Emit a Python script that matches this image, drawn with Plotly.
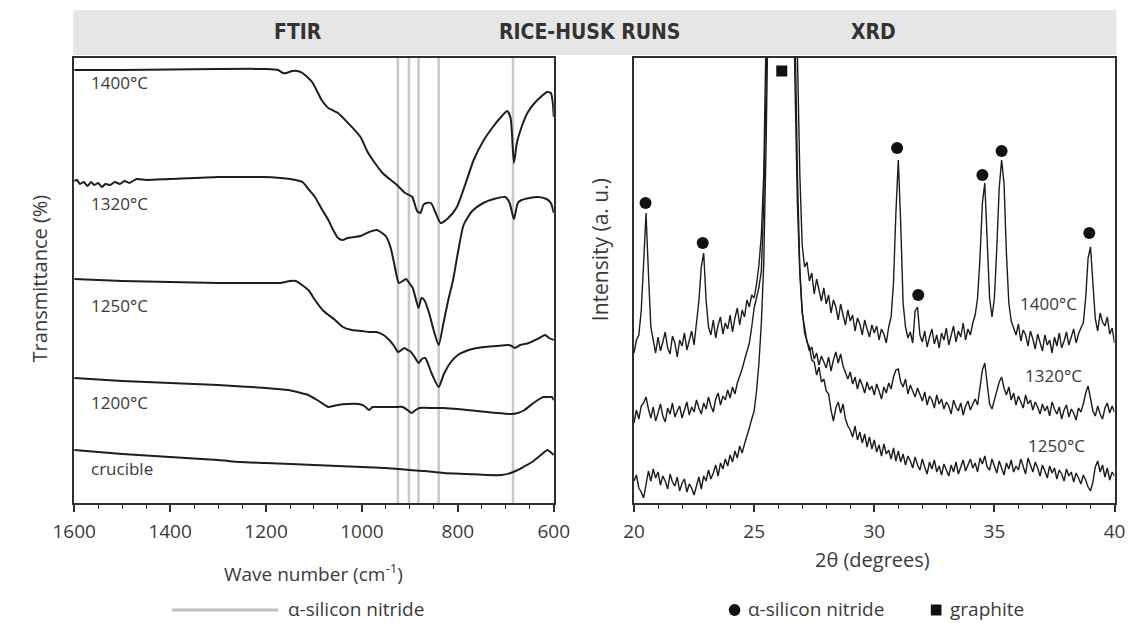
import plotly.graph_objects as go

W, H = 1146, 623

# ---------------- FTIR data (wave number, transmittance in arbitrary offset units) ----------------
ftir_1400_wn = [1600, 1500, 1400, 1300, 1200, 1175, 1165, 1158, 1145, 1135, 1124, 1104, 1084, 1070, 1050,
                1029, 1003, 987, 957, 927, 910, 902, 895, 885, 878, 872, 866, 856, 848, 836, 820, 802, 785,
                767, 747, 727, 710, 697, 690, 683, 677, 667, 655, 640, 625, 614, 606, 602, 600]
ftir_1400_t = [433, 433, 433.5, 434, 434, 433, 430, 430, 432, 432, 430, 421, 403, 395, 390,
               380, 366, 350, 330, 318, 310, 308, 306, 292, 290, 298, 300, 300, 292, 280, 285, 296, 318,
               343, 362, 376, 386, 392, 385, 340, 360, 376, 390, 400, 407, 411, 410, 400, 386]

ftir_1320_wn = [1600, 1594, 1588, 1580, 1572, 1565, 1558, 1550, 1542, 1535, 1525, 1515, 1505, 1495, 1485,
                1470, 1450, 1400, 1300, 1250, 1205, 1170, 1150, 1138, 1124, 1110, 1098, 1084, 1070, 1060,
                1050, 1040, 1030, 1015, 1003, 985, 969, 958, 949, 940, 933, 923, 915, 908, 900, 894, 882,
                876, 870, 860, 850, 840, 830, 820, 810, 800, 788, 770, 747, 725, 701, 692, 683, 675, 667,
                650, 634, 615, 606, 600]
ftir_1320_t = [322, 323, 319, 321, 317, 321, 318, 320, 316, 319, 318, 321, 319, 322, 320,
               324, 323, 324, 326, 326, 326, 325, 324, 323, 321, 313, 306, 294, 283, 273,
               265, 263, 265, 266, 267, 271, 273, 270, 266, 255, 240, 220, 222, 224, 219, 215, 195,
               205, 203, 190, 172, 158, 180, 203, 223, 250, 278, 292, 300, 304, 306, 300, 284, 300, 303,
               305, 306, 304, 300, 290]

ftir_1250_wn = [1600, 1500, 1400, 1300, 1200, 1171, 1150, 1138, 1125, 1110, 1098, 1080, 1056, 1040, 1021,
                1000, 985, 970, 955, 943, 933, 925, 918, 911, 905, 900, 890, 882, 875, 868, 855, 840, 830,
                816, 800, 788, 770, 745, 720, 695, 688, 681, 670, 652, 630, 618, 610, 600]
ftir_1250_t = [224, 222, 221, 220, 220, 220, 222, 222, 218, 212, 203, 192, 183, 176, 173,
               172, 171, 171, 168, 163, 157, 151, 153, 155, 153, 152, 146, 140, 144, 145, 130, 116, 128,
               140, 148, 151, 154, 156, 157, 158, 157, 155, 158, 160, 165, 168, 165, 163]

ftir_1200_wn = [1600, 1500, 1400, 1300, 1200, 1154, 1135, 1112, 1090, 1070, 1060, 1050, 1030, 1007, 995,
                985, 978, 971, 950, 930, 915, 905, 896, 888, 880, 850, 830, 800, 760, 720, 689, 675, 661,
                645, 630, 622, 612, 604, 600]
ftir_1200_t = [125, 122, 120, 118, 115, 113, 111, 108, 102, 96, 97, 98, 99, 99, 97,
               93, 96, 96, 96, 96, 96, 93, 90, 93, 95, 95, 95, 94, 92, 90, 89, 90, 93,
               99, 104, 106, 106, 106, 103]

ftir_crucible_wn = [1600, 1500, 1400, 1300, 1255, 1200, 1100, 1000, 950, 900, 870, 830, 780, 740, 709, 690,
                    675, 660, 645, 632, 622, 614, 607, 600]
ftir_crucible_t = [53, 49, 46, 43, 41, 40, 38, 36, 35, 33, 32, 30, 29, 28, 28, 30,
                   33, 37, 41, 46, 50, 53, 51, 48]

ftir_series = [
    ("1400°C", ftir_1400_wn, ftir_1400_t),
    ("1320°C", ftir_1320_wn, ftir_1320_t),
    ("1250°C", ftir_1250_wn, ftir_1250_t),
    ("1200°C", ftir_1200_wn, ftir_1200_t),
    ("crucible", ftir_crucible_wn, ftir_crucible_t),
]
si3n4_ftir_bands = [925, 902, 882, 840, 685]
ftir_ticks = [1600, 1400, 1200, 1000, 800, 600]

# ---------------- XRD data (2theta scan grid 20.0..40.0 step 0.1, intensity a.u.) ----------------
two_theta = [round(20 + 0.1 * i, 1) for i in range(201)]
xrd_1400 = [
    150, 163, 168, 192, 240, 290, 230, 176, 163, 150,
    166, 152, 161, 171, 155, 149, 167, 160, 146, 163,
    157, 170, 153, 164, 172, 158, 178, 202, 236, 250,
    203, 176, 168, 183, 165, 178, 186, 169, 180, 174,
    188, 171, 185, 195, 178, 193, 186, 203, 196, 208,
    205, 219, 238, 268, 330, 430, 600, 820, 1050, 1250,
    1400, 1480, 1480, 1400, 1250, 1050, 820, 620, 450, 330,
    258, 236, 241, 222, 230, 209, 224, 213, 202, 215,
    199, 208, 190, 203, 196, 183, 199, 188, 178, 193,
    182, 188, 172, 185, 179, 168, 183, 174, 166, 178,
    170, 177, 163, 174, 169, 160, 176, 186, 220, 290,
    343, 280, 200, 176, 165, 171, 160, 192, 196, 168,
    161, 172, 156, 166, 174, 159, 168, 155, 170, 163,
    175, 158, 169, 177, 161, 172, 166, 180, 163, 174,
    168, 180, 188, 205, 245, 300, 320, 270, 205, 186,
    205, 255, 315, 343, 320, 250, 200, 182, 176, 168,
    179, 162, 173, 168, 157, 172, 164, 154, 169, 161,
    152, 168, 158, 163, 150, 166, 157, 170, 155, 162,
    171, 158, 167, 174, 160, 169, 175, 180, 205, 245,
    256, 215, 184, 172, 190, 181, 177, 186, 169, 175,
    160]
xrd_1320 = [
    80, 93, 84, 97, 100, 106, 94, 85, 96, 82,
    90, 99, 87, 81, 95, 89, 100, 86, 92, 97,
    85, 94, 101, 88, 96, 91, 103, 95, 89, 100,
    94, 106, 97, 91, 104, 110, 98, 107, 103, 113,
    105, 116, 109, 120, 126, 134, 143, 151, 160, 176,
    195, 205, 216, 232, 300, 420, 600, 800, 1000, 1200,
    1350, 1400, 1350, 1200, 1000, 800, 620, 480, 330, 235,
    192, 170, 162, 152, 156, 144, 150, 138, 147, 141,
    135, 146, 132, 143, 151, 140, 149, 137, 130, 124,
    131, 119, 126, 114, 124, 118, 110, 121, 113, 117,
    108, 119, 112, 104, 116, 110, 120, 114, 126, 133,
    134, 121, 116, 124, 109, 118, 112, 106, 115, 109,
    102, 111, 98, 107, 103, 95, 108, 99, 104, 94,
    101, 97, 89, 103, 96, 92, 100, 88, 97, 102,
    93, 99, 104, 98, 116, 133, 140, 117, 99, 94,
    103, 111, 121, 126, 115, 108, 116, 103, 110, 98,
    107, 101, 95, 108, 99, 103, 93, 101, 96, 89,
    99, 92, 97, 87, 101, 94, 89, 96, 84, 93,
    98, 86, 94, 90, 83, 95, 91, 99, 110, 117,
    103, 92, 87, 97, 89, 84, 95, 100, 90, 97,
    91]
xrd_1250 = [
    22, 28, 15, 11, 5, 20, 32, 22, 34, 25,
    31, 18, 27, 22, 14, 29, 21, 17, 26, 12,
    20, 24, 11, 19, 15, 8, 17, 26, 14, 27,
    22, 33, 24, 30, 38, 27, 40, 34, 44, 37,
    48, 41, 52, 45, 57, 50, 59, 66, 75, 84,
    92, 112, 140, 180, 240, 360, 520, 750, 950, 1150,
    1300, 1350, 1300, 1150, 950, 750, 560, 420, 300, 230,
    190, 176, 161, 156, 143, 141, 128, 136, 121, 124,
    112, 109, 93, 82, 95, 101, 90, 99, 84, 77,
    73, 66, 77, 63, 71, 60, 69, 56, 66, 54,
    63, 51, 58, 47, 59, 49, 53, 44, 55, 42,
    52, 41, 49, 38, 47, 42, 35, 46, 38, 33,
    44, 36, 29, 41, 34, 43, 31, 37, 28, 39,
    33, 27, 38, 31, 41, 29, 36, 43, 32, 38,
    44, 35, 40, 31, 45, 39, 47, 36, 33, 44,
    37, 30, 42, 36, 28, 40, 34, 43, 31, 37,
    33, 44, 36, 29, 45, 38, 31, 41, 35, 27,
    38, 32, 25, 37, 30, 35, 24, 33, 29, 22,
    34, 27, 31, 21, 30, 25, 19, 28, 23, 16,
    12, 21, 36, 42, 31, 38, 26, 35, 23, 31,
    27]
xrd_series = [("1400°C", xrd_1400), ("1320°C", xrd_1320), ("1250°C", xrd_1250)]

si3n4_xrd_peaks = [20.48, 22.86, 30.95, 31.83, 34.5, 35.3, 38.95]
si3n4_xrd_marks = [300, 260, 355, 208, 328, 352, 270]
graphite_peak = [26.15]
graphite_mark = [432]
xrd_ticks = [20, 25, 30, 35, 40]

# ---------------- helpers ----------------
def px(x):
    return x / W

def py(y):
    return 1 - y / H

TXT = "#3a3a3a"
FONT = "Open Sans, Lato, DejaVu Sans, sans-serif"
YMAX = 445

fig = go.Figure()

for b in si3n4_ftir_bands:
    fig.add_trace(go.Scatter(x=[b, b], y=[0, YMAX], mode="lines", xaxis="x", yaxis="y",
                             line=dict(color="#c8c8c8", width=2.5), hoverinfo="skip"))

for name, wn, t in ftir_series:
    fig.add_trace(go.Scatter(x=wn, y=t, mode="lines", name=name, xaxis="x", yaxis="y",
                             line=dict(color="#1e1e1e", width=2, shape="spline", smoothing=0.6)))

for name, yv in xrd_series:
    fig.add_trace(go.Scatter(x=two_theta, y=yv, mode="lines", name=name, xaxis="x2", yaxis="y2",
                             line=dict(color="#1c1c1c", width=1.4)))

fig.add_trace(go.Scatter(x=si3n4_xrd_peaks, y=si3n4_xrd_marks, mode="markers", xaxis="x2", yaxis="y2",
                         marker=dict(symbol="circle", size=12, color="#111111"), cliponaxis=False))
fig.add_trace(go.Scatter(x=graphite_peak, y=graphite_mark, mode="markers", xaxis="x2", yaxis="y2",
                         marker=dict(symbol="square", size=11, color="#111111")))

axis_common = dict(showline=True, mirror=True, linecolor="#2e2e2e", linewidth=2, showgrid=False,
                   zeroline=False)

fig.update_layout(
    width=W, height=H, margin=dict(l=0, r=0, t=0, b=0),
    paper_bgcolor="white", plot_bgcolor="white", showlegend=False,
    font=dict(family=FONT, color=TXT),
    xaxis=dict(domain=[px(54), px(550)], range=[1600, 600], anchor="y",
               tickvals=ftir_ticks, ticks="outside", ticklen=7, tickwidth=1.5, tickcolor="#2e2e2e",
               tickfont=dict(size=19, color=TXT), ticklabelstandoff=3,
               minor=dict(dtick=50, tick0=600, ticks="outside", ticklen=4, tickwidth=1.2,
                          tickcolor="#2e2e2e"),
               **axis_common),
    yaxis=dict(domain=[py(503), py(58)], range=[0, YMAX], anchor="x", showticklabels=False,
               ticks="", **axis_common),
    xaxis2=dict(domain=[px(633), px(1130)], range=[20, 40], anchor="y2",
                tickvals=xrd_ticks, ticks="outside", ticklen=7, tickwidth=1.5, tickcolor="#2e2e2e",
                tickfont=dict(size=19, color=TXT), ticklabelstandoff=3,
                minor=dict(dtick=1, tick0=20, ticks="outside", ticklen=4, tickwidth=1.2,
                           tickcolor="#2e2e2e"),
                **axis_common),
    yaxis2=dict(domain=[py(503), py(58)], range=[0, YMAX], anchor="x2", showticklabels=False,
                ticks="", **axis_common),
)

shapes = [
    dict(type="rect", xref="paper", yref="paper", x0=px(53), x1=px(1132), y0=py(55), y1=py(10),
         fillcolor="#e6e6e6", line=dict(width=0), layer="below"),
    # left legend line
    dict(type="line", xref="paper", yref="paper", x0=px(155), x1=px(265), y0=py(610), y1=py(610),
         line=dict(color="#c0c0c0", width=3)),
    # right legend symbols
    dict(type="circle", xref="paper", yref="paper", x0=px(731), x1=px(743), y0=py(616), y1=py(604),
         fillcolor="#111111", line=dict(width=0)),
    dict(type="rect", xref="paper", yref="paper", x0=px(940), x1=px(951), y0=py(615.5), y1=py(604.5),
         fillcolor="#111111", line=dict(width=0)),
]
fig.update_layout(shapes=shapes)

HFONT = dict(family="Liberation Sans Narrow, DejaVu Sans Condensed, Arial Narrow, sans-serif",
             size=21, color="#333333")
ann = []
for text, x in [("<b>FTIR</b>", 285), ("<b>RICE-HUSK RUNS</b>", 587), ("<b>XRD</b>", 881)]:
    ann.append(dict(text=text, x=px(x), y=py(32), xref="paper", yref="paper", showarrow=False,
                    xanchor="center", yanchor="middle", font=HFONT))

ann += [
    dict(text="Wave number (cm<sup>-1</sup>)", x=px(302), y=py(573), xref="paper", yref="paper",
         showarrow=False, xanchor="center", yanchor="middle", font=dict(size=19)),
    dict(text="2θ (degrees)", x=px(880), y=py(559), xref="paper", yref="paper",
         showarrow=False, xanchor="center", yanchor="middle", font=dict(size=20)),
    dict(text="Transmittance (%)", x=px(18), y=py(278), xref="paper", yref="paper", textangle=-90,
         showarrow=False, xanchor="center", yanchor="middle", font=dict(size=20)),
    dict(text="Intensity (a. u.)", x=px(598), y=py(250), xref="paper", yref="paper", textangle=-90,
         showarrow=False, xanchor="center", yanchor="middle", font=dict(size=21)),
    dict(text="α-silicon nitride", x=px(273), y=py(609), xref="paper", yref="paper",
         showarrow=False, xanchor="left", yanchor="middle", font=dict(size=19)),
    dict(text="α-silicon nitride", x=px(749), y=py(609), xref="paper", yref="paper",
         showarrow=False, xanchor="left", yanchor="middle", font=dict(size=19)),
    dict(text="graphite", x=px(958), y=py(609), xref="paper", yref="paper",
         showarrow=False, xanchor="left", yanchor="middle", font=dict(size=19)),
]

ftir_label_y = {"1400°C": 420, "1320°C": 300, "1250°C": 198, "1200°C": 101, "crucible": 35}
for name, _, _ in ftir_series:
    ann.append(dict(text=name, x=1570, y=ftir_label_y[name], xref="x", yref="y", showarrow=False,
                    xanchor="left", yanchor="middle", font=dict(size=17)))

xrd_label_pos = {"1400°C": (35.98, 200), "1320°C": (36.18, 128), "1250°C": (36.3, 58)}
for name, _ in xrd_series:
    xl, yl = xrd_label_pos[name]
    ann.append(dict(text=name, x=xl, y=yl, xref="x2", yref="y2", showarrow=False,
                    xanchor="left", yanchor="middle", font=dict(size=17)))

fig.update_layout(annotations=ann)
fig.write_html("out.html")
